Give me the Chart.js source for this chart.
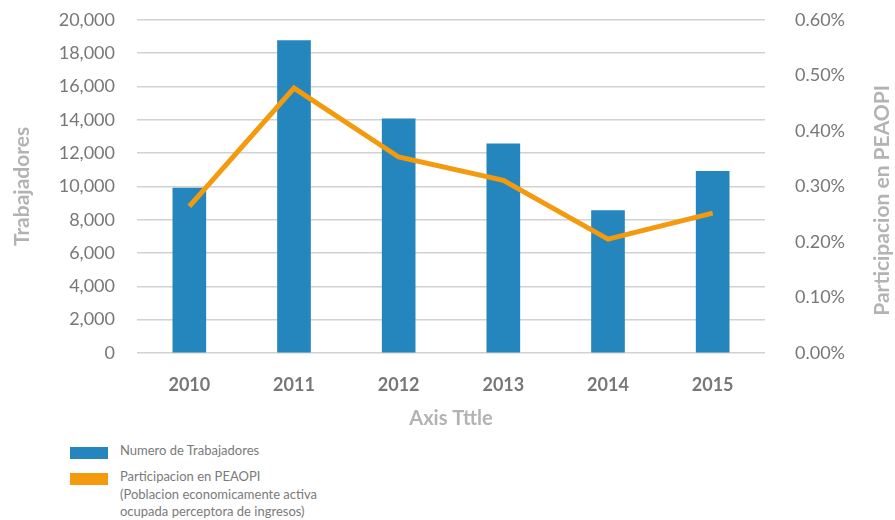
<!DOCTYPE html>
<html>
<head>
<meta charset="utf-8">
<script src="https://cdn.jsdelivr.net/npm/chart.js@4"></script>
<style>
  body { margin: 0; background: #fff; font-family: Lato, "Open Sans", sans-serif; }
  #wrap { position: relative; width: 895px; height: 520px; overflow: hidden; }
  #chartBox { position: absolute; left: 0; top: -21px; width: 895px; height: 456px; }
  .legend { position: absolute; left: 70px; color: #7a7a7a; font-size: 13px; line-height: 17.5px; }
  .legend .box { position: absolute; left: 0; width: 38px; height: 12px; }
  .legend .txt { position: absolute; left: 50px; white-space: nowrap; }
</style>
</head>
<body>
<div id="wrap">
  <div id="chartBox"><canvas id="chart"></canvas></div>
  <div class="legend" style="top:447px">
    <div class="box" style="background:#2585bd"></div>
    <div class="txt" style="top:-5px">Numero de Trabajadores</div>
  </div>
  <div class="legend" style="top:473px">
    <div class="box" style="background:#f39a0f"></div>
    <div class="txt" style="top:-5px">Participacion en PEAOPI<br>(Poblacion economicamente activa<br>ocupada perceptora de ingresos)</div>
  </div>
</div>
<script>
const years = ['2010', '2011', '2012', '2013', '2014', '2015'];
const trabajadores = [9900, 18750, 14050, 12550, 8550, 10900];
const participacion = [0.264, 0.477, 0.353, 0.311, 0.205, 0.252];
const rightTitle = 'Participacion en PEAOPI';

// titulo del eje derecho, leido de abajo hacia arriba como en el original
const rightTitlePlugin = {
    id: 'rightTitle',
    afterDraw(chart) {
        const c = chart.ctx;
        const area = chart.chartArea;
        c.save();
        c.translate(chart.width - 13, (area.top + area.bottom) / 2 + 14);
        c.rotate(-Math.PI / 2);
        c.font = 'bold 21px Lato';
        c.fillStyle = '#b3b3b3';
        c.textAlign = 'center';
        c.textBaseline = 'middle';
        c.fillText(rightTitle, 0, 0);
        c.restore();
    }
};

document.addEventListener('DOMContentLoaded', function() {
    const ctx = document.getElementById('chart').getContext('2d');
    new Chart(ctx, {
        data: {
            labels: years,
            datasets: [{
                type: 'line',
                label: 'Participacion en PEAOPI',
                data: participacion,
                yAxisID: 'y2',
                borderColor: '#f39a0f',
                borderWidth: 5,
                pointRadius: 0,
                tension: 0,
                order: 0
            }, {
                type: 'bar',
                label: 'Numero de Trabajadores',
                data: trabajadores,
                yAxisID: 'y',
                backgroundColor: '#2585bd',
                barThickness: 33,
                order: 1
            }]
        },
        options: {
            responsive: true,
            maintainAspectRatio: false,
            animation: false,
            layout: { padding: 0 },
            plugins: { legend: { display: false }, tooltip: { enabled: false } },
            scales: {
                x: {
                    grid: { display: false },
                    border: { display: false },
                    ticks: { color: '#777', padding: 13, font: { family: 'Lato', size: 18, weight: 'bold' } },
                    title: { display: true, text: 'Axis Tttle', color: '#b3b3b3', font: { family: 'Lato', size: 20, weight: 'bold' } },
                    afterFit: s => { s.height = 82; }
                },
                y: {
                    position: 'left',
                    min: 0,
                    max: 20000,
                    ticks: {
                        stepSize: 2000,
                        color: '#777',
                        padding: 22,
                        font: { family: 'Lato', size: 18 },
                        callback: v => v.toLocaleString('en-US')
                    },
                    grid: { color: '#d2d2d2', lineWidth: 1.5, drawTicks: false },
                    border: { display: false },
                    title: { display: true, text: 'Trabajadores', color: '#b3b3b3', padding: { top: 10, bottom: 4 }, font: { family: 'Lato', size: 21, weight: 'bold' } },
                    afterFit: s => { s.width = 137; }
                },
                y2: {
                    position: 'right',
                    min: 0,
                    max: 0.6,
                    ticks: {
                        stepSize: 0.1,
                        color: '#777',
                        padding: 30,
                        font: { family: 'Lato', size: 18 },
                        callback: v => v.toFixed(2) + '%'
                    },
                    grid: { display: false, drawTicks: false },
                    border: { display: false },
                    title: { display: false },
                    afterFit: s => { s.width = 130; }
                }
            }
        },
        plugins: [rightTitlePlugin]
    });
});
</script>
</body>
</html>
